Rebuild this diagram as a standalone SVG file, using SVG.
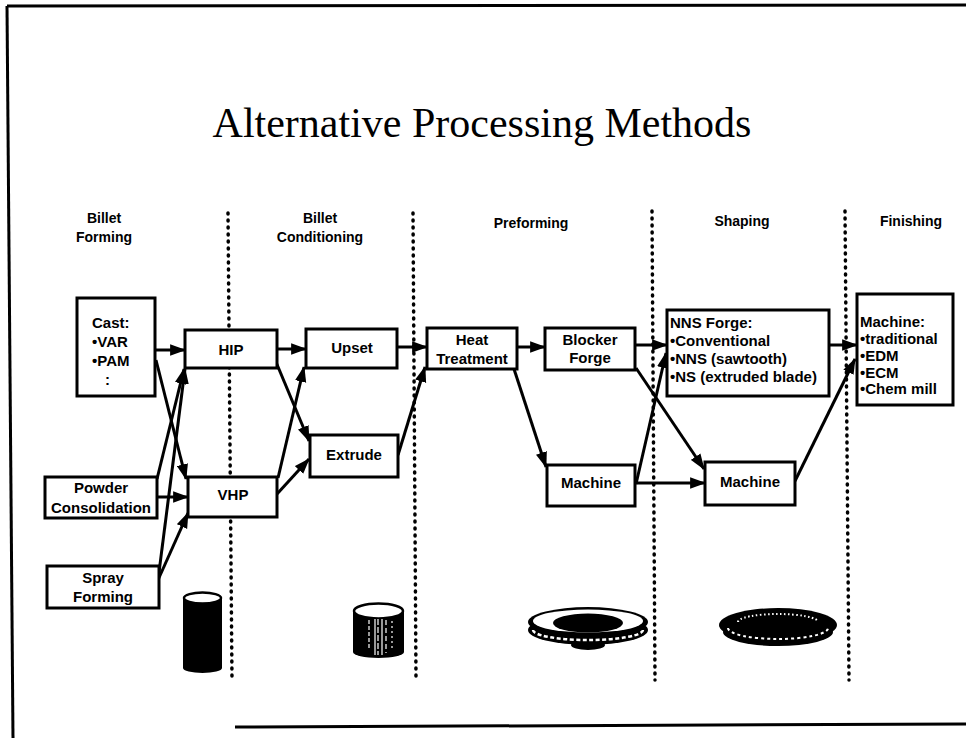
<svg xmlns="http://www.w3.org/2000/svg" width="966" height="738" viewBox="0 0 966 738">
  <defs>
    <style>
      .frame{stroke:#000;stroke-width:3;fill:none}
      .title{font-family:"Liberation Serif","Times New Roman",serif;font-size:42px;fill:#000;text-anchor:middle}
      .hdr{font-family:"Liberation Sans",Arial,sans-serif;font-weight:bold;font-size:14px;fill:#000;text-anchor:middle}
      .box rect{fill:#fff;stroke:#000;stroke-width:3}
      .box text{font-family:"Liberation Sans",Arial,sans-serif;font-weight:bold;font-size:15px;fill:#000}
      .box text.c{text-anchor:middle}
      .divider{stroke:#000;stroke-width:3.5;stroke-linecap:round;stroke-dasharray:1 6;fill:none}
      #connectors line{stroke:#000;stroke-width:3;marker-end:url(#arrow)}
    </style>
    <marker id="arrow" viewBox="0 0 14 10" refX="13" refY="5" markerWidth="16" markerHeight="12" markerUnits="userSpaceOnUse" orient="auto">
      <path d="M0,0 L14,5 L0,10 z" fill="#000"/>
    </marker>
  </defs>

  <rect width="966" height="738" fill="#fff"/>

  <!-- page frame -->
  <g id="frame">
    <line class="frame" x1="7" y1="6" x2="966" y2="5"/>
    <line class="frame" x1="7" y1="6" x2="13" y2="738"/>
    <line class="frame" x1="235" y1="727" x2="966" y2="724"/>
  </g>

  <text class="title" x="482" y="137">Alternative Processing Methods</text>

  <!-- stage headings -->
  <g id="headings">
    <text class="hdr" x="104" y="223">Billet</text>
    <text class="hdr" x="104" y="242">Forming</text>
    <text class="hdr" x="320" y="223">Billet</text>
    <text class="hdr" x="320" y="242">Conditioning</text>
    <text class="hdr" x="531" y="228">Preforming</text>
    <text class="hdr" x="742" y="226">Shaping</text>
    <text class="hdr" x="911" y="226">Finishing</text>
  </g>

  <!-- stage dividers -->
  <g id="dividers">
    <line class="divider" x1="228" y1="213" x2="232" y2="680"/>
    <line class="divider" x1="413" y1="213" x2="416" y2="680"/>
    <line class="divider" x1="652" y1="211" x2="655" y2="680"/>
    <line class="divider" x1="845" y1="211" x2="849" y2="680"/>
  </g>

  <!-- process flow -->
  <g id="connectors">
    <line x1="155" y1="350" x2="185" y2="350"/>
    <line x1="156" y1="360" x2="186" y2="479"/>
    <line x1="157" y1="479" x2="184" y2="369"/>
    <line x1="158" y1="580" x2="185" y2="369"/>
    <line x1="157" y1="497" x2="188" y2="497"/>
    <line x1="158" y1="580" x2="188" y2="513"/>
    <line x1="277" y1="349" x2="306" y2="349"/>
    <line x1="276" y1="362" x2="309" y2="441"/>
    <line x1="278" y1="478" x2="304" y2="367"/>
    <line x1="277" y1="494" x2="309" y2="459"/>
    <line x1="397" y1="347" x2="427" y2="347"/>
    <line x1="398" y1="455" x2="425" y2="367"/>
    <line x1="517" y1="347" x2="545" y2="347"/>
    <line x1="514" y1="369" x2="546" y2="467"/>
    <line x1="635" y1="345" x2="667" y2="345"/>
    <line x1="636" y1="368" x2="704" y2="469"/>
    <line x1="636" y1="484" x2="666" y2="353"/>
    <line x1="635" y1="483" x2="705" y2="483"/>
    <line x1="829" y1="345" x2="857" y2="345"/>
    <line x1="795" y1="481" x2="855" y2="359"/>
  </g>

  <!-- process nodes -->
  <g id="cast" class="box">
    <rect x="77" y="298" width="78" height="98"/>
    <text x="92" y="328">Cast:</text>
    <text x="92" y="347">•VAR</text>
    <text x="92" y="366">•PAM</text>
    <text x="105" y="385">:</text>
  </g>
  <g id="powder" class="box">
    <rect x="45" y="477" width="112" height="41"/>
    <text class="c" x="101" y="493">Powder</text>
    <text class="c" x="101" y="513">Consolidation</text>
  </g>
  <g id="spray" class="box">
    <rect x="47" y="566" width="112" height="42"/>
    <text class="c" x="103" y="583">Spray</text>
    <text class="c" x="103" y="602">Forming</text>
  </g>
  <g id="hip" class="box">
    <rect x="185" y="330" width="92" height="38"/>
    <text class="c" x="231" y="355">HIP</text>
  </g>
  <g id="vhp" class="box">
    <rect x="188" y="477" width="89" height="40"/>
    <text class="c" x="233" y="500">VHP</text>
  </g>
  <g id="upset" class="box">
    <rect x="306" y="329" width="91" height="39"/>
    <text class="c" x="352" y="353">Upset</text>
  </g>
  <g id="extrude" class="box">
    <rect x="310" y="435" width="88" height="42"/>
    <text class="c" x="354" y="460">Extrude</text>
  </g>
  <g id="heat-treatment" class="box">
    <rect x="427" y="328" width="90" height="41"/>
    <text class="c" x="472" y="345">Heat</text>
    <text class="c" x="472" y="364">Treatment</text>
  </g>
  <g id="blocker-forge" class="box">
    <rect x="545" y="328" width="90" height="42"/>
    <text class="c" x="590" y="345">Blocker</text>
    <text class="c" x="590" y="363">Forge</text>
  </g>
  <g id="machine-preform" class="box">
    <rect x="547" y="465" width="88" height="41"/>
    <text class="c" x="591" y="488">Machine</text>
  </g>
  <g id="nns-forge" class="box">
    <rect x="667" y="310" width="162" height="86"/>
    <text x="670" y="328">NNS Forge:</text>
    <text x="670" y="346">•Conventional</text>
    <text x="670" y="364">•NNS (sawtooth)</text>
    <text x="670" y="382">•NS (extruded blade)</text>
  </g>
  <g id="machine-shape" class="box">
    <rect x="705" y="462" width="90" height="43"/>
    <text class="c" x="750" y="487">Machine</text>
  </g>
  <g id="machine-finish" class="box">
    <rect x="857" y="294" width="96" height="111"/>
    <text x="860" y="327">Machine:</text>
    <text x="860" y="344">•traditional</text>
    <text x="860" y="361">•EDM</text>
    <text x="860" y="378">•ECM</text>
    <text x="860" y="394">•Chem mill</text>
  </g>

  <!-- part sketches under each stage -->
  <g id="billet">
    <rect x="183" y="598" width="39" height="70" fill="#000"/>
    <ellipse cx="202.5" cy="668" rx="19.5" ry="5" fill="#000"/>
    <ellipse cx="202.5" cy="598" rx="18.5" ry="5.5" fill="#fff" stroke="#000" stroke-width="2.5"/>
  </g>
  <g id="conditioned-billet">
    <rect x="353" y="611" width="51" height="41" fill="#000"/>
    <ellipse cx="378.5" cy="652" rx="25.5" ry="6" fill="#000"/>
    <ellipse cx="378.5" cy="611" rx="24.5" ry="7.5" fill="#fff" stroke="#000" stroke-width="2.5"/>
    <g stroke="#fff" stroke-width="1.2">
      <line x1="369" y1="620" x2="369" y2="650" stroke-dasharray="4 2"/>
      <line x1="375" y1="619" x2="375" y2="655"/>
      <line x1="378" y1="619" x2="378" y2="655" stroke-dasharray="6 2"/>
      <line x1="382" y1="619" x2="382" y2="655"/>
      <line x1="386" y1="620" x2="386" y2="653" stroke-dasharray="5 3"/>
      <line x1="392" y1="621" x2="392" y2="648" stroke-dasharray="2 3"/>
    </g>
  </g>
  <g id="preform-disk">
    <ellipse cx="588" cy="645" rx="17" ry="5" fill="#000"/>
    <ellipse cx="588" cy="630" rx="60" ry="15" fill="#000"/>
    <ellipse cx="588" cy="622" rx="60" ry="15" fill="#000"/>
    <ellipse cx="588" cy="621" rx="55" ry="11.5" fill="#fff"/>
    <ellipse cx="588" cy="623" rx="35" ry="9.5" fill="#000"/>
    <path d="M533,630 A55,10 0 0 0 643,630" fill="none" stroke="#fff" stroke-width="2.5" stroke-dasharray="4 2.5"/>
  </g>
  <g id="shaped-disk">
    <ellipse cx="778" cy="632" rx="55" ry="14" fill="#000"/>
    <ellipse cx="778" cy="625" rx="59" ry="17" fill="#000"/>
    <path d="M738,622 A40,8 0 0 1 818,622" fill="none" stroke="#fff" stroke-width="2" stroke-dasharray="1.5 2.5"/>
    <path d="M728,628 A50,11 0 0 0 828,628" fill="none" stroke="#fff" stroke-width="2" stroke-dasharray="3 3"/>
  </g>
</svg>
